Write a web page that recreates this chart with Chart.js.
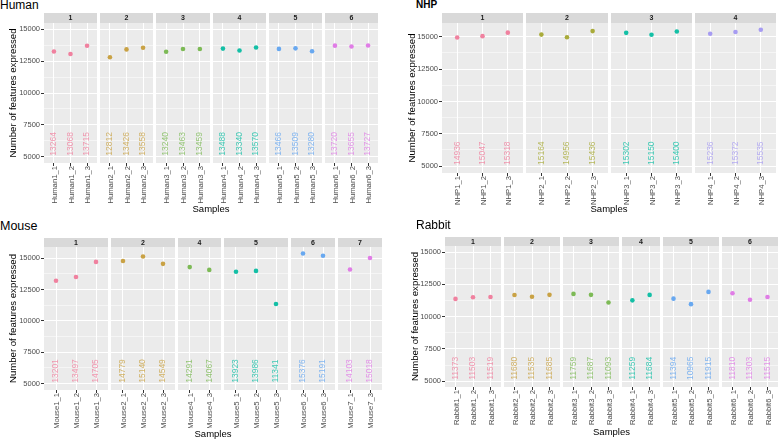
<!DOCTYPE html>
<html>
<head>
<meta charset="utf-8">
<script src="https://cdn.jsdelivr.net/npm/chart.js@4.4.1/dist/chart.umd.min.js"></script>
<style>
  body { margin: 0; width: 778px; height: 439px; overflow: hidden; background: #fff; position: relative;
         font-family: "Liberation Sans", Arial, sans-serif; }
  canvas { position: absolute; }
  .title { position: absolute; color: #000; white-space: nowrap; line-height: 1; }
  .xtitle { position: absolute; font-size: 9.5px; line-height: 1; color: #000; transform: translate(-50%, -50%); white-space: nowrap; }
</style>
</head>
<body>
<script>
// ---- data ----
const humanFacets = ['1', '2', '3', '4', '5', '6'];
const humanSamples = ['Human1_1', 'Human1_2', 'Human1_3', 'Human2_1', 'Human2_2', 'Human2_3',
  'Human3_1', 'Human3_2', 'Human3_3', 'Human4_1', 'Human4_2', 'Human4_3',
  'Human5_1', 'Human5_2', 'Human5_3', 'Human6_1', 'Human6_2', 'Human6_3'];
const humanFacetOf = ['1', '1', '1', '2', '2', '2', '3', '3', '3', '4', '4', '4', '5', '5', '5', '6', '6', '6'];
const humanCounts = [13264, 13068, 13715, 12812, 13426, 13558, 13240, 13463, 13459,
  13488, 13340, 13570, 13466, 13509, 13280, 13720, 13655, 13727];

const nhpFacets = ['1', '2', '3', '4'];
const nhpSamples = ['NHP1_1', 'NHP1_2', 'NHP1_3', 'NHP2_1', 'NHP2_2', 'NHP2_3',
  'NHP3_1', 'NHP3_2', 'NHP3_3', 'NHP4_1', 'NHP4_2', 'NHP4_3'];
const nhpFacetOf = ['1', '1', '1', '2', '2', '2', '3', '3', '3', '4', '4', '4'];
const nhpCounts = [14936, 15047, 15318, 15164, 14956, 15436, 15302, 15150, 15400, 15236, 15372, 15535];

const mouseFacets = ['1', '2', '4', '5', '6', '7'];
const mouseSamples = ['Mouse1_1', 'Mouse1_2', 'Mouse1_3', 'Mouse2_1', 'Mouse2_2', 'Mouse2_3',
  'Mouse4_1', 'Mouse4_3', 'Mouse5_1', 'Mouse5_2', 'Mouse5_3', 'Mouse6_2', 'Mouse6_3', 'Mouse7_1', 'Mouse7_3'];
const mouseFacetOf = ['1', '1', '1', '2', '2', '2', '4', '4', '5', '5', '5', '6', '6', '7', '7'];
const mouseCounts = [13201, 13497, 14705, 14779, 15140, 14549, 14291, 14067, 13923, 13986, 11341,
  15376, 15191, 14103, 15018];

const rabbitFacets = ['1', '2', '3', '4', '5', '6'];
const rabbitSamples = ['Rabbit1_1', 'Rabbit1_2', 'Rabbit1_3', 'Rabbit2_1', 'Rabbit2_2', 'Rabbit2_3',
  'Rabbit3_1', 'Rabbit3_2', 'Rabbit3_3', 'Rabbit4_1', 'Rabbit4_3',
  'Rabbit5_1', 'Rabbit5_2', 'Rabbit5_3', 'Rabbit6_1', 'Rabbit6_2', 'Rabbit6_3'];
const rabbitFacetOf = ['1', '1', '1', '2', '2', '2', '3', '3', '3', '4', '4', '5', '5', '5', '6', '6', '6'];
const rabbitCounts = [11373, 11503, 11519, 11680, 11535, 11685, 11759, 11687, 11093,
  11259, 11684, 11394, 10965, 11915, 11810, 11303, 11515];

const yTicks = [5000, 7500, 10000, 12500, 15000];
const yMinorTicks = [6250, 8750, 11250, 13750];
const labelY = 6000;   // height where the counts are written

// ---- styling ----
const palette6 = ['#F0819F', '#C9A245', '#7DBA56', '#14BFA6', '#68A8F0', '#E07DE6'];
const palette4 = ['#F0819F', '#A9AB3A', '#14C0A6', '#A79CF2'];
const FONT = '"Liberation Sans", Arial, sans-serif';
const EXTRA = 12;   // spare room under the axis so rotated labels are never clipped

const facetFrame = {
  id: 'facetFrame',
  beforeDraw(chart, args, opts) {
    const { ctx, chartArea: a } = chart;
    ctx.save();
    ctx.fillStyle = '#ebebeb';
    ctx.fillRect(a.left, a.top, a.right - a.left, a.bottom - a.top);
    ctx.fillStyle = '#d9d9d9';
    ctx.fillRect(a.left, a.top - opts.stripH, a.right - a.left, opts.stripH);
    ctx.fillStyle = '#1a1a1a';
    ctx.font = 'bold 7px ' + FONT;
    ctx.textAlign = 'center';
    ctx.textBaseline = 'middle';
    ctx.fillText(opts.label, (a.left + a.right) / 2, a.top - opts.stripH / 2 + 0.5);
    ctx.restore();
  },
  afterDatasetsDraw(chart, args, opts) {
    const { ctx, scales: { x, y } } = chart;
    ctx.save();
    ctx.fillStyle = opts.color;
    ctx.globalAlpha = 0.8;
    ctx.font = '8.5px ' + FONT;
    ctx.textAlign = 'center';
    ctx.textBaseline = 'middle';
    opts.values.forEach((v, i) => {
      ctx.save();
      ctx.translate(x.getPixelForValue(i), y.getPixelForValue(labelY));
      ctx.rotate(-Math.PI / 2);
      ctx.fillText(String(v), 0, 0);
      ctx.restore();
    });
    ctx.restore();
  }
};

function addText(cls, text, left, top, size, weight) {
  const d = document.createElement('div');
  d.className = cls;
  d.textContent = text;
  d.style.left = left + 'px';
  d.style.top = top + 'px';
  if (size) d.style.fontSize = size + 'px';
  if (weight) d.style.fontWeight = weight;
  document.body.appendChild(d);
}

function drawSpecies(cfg) {
  const spans = cfg.facets.map(f => cfg.facetOf.filter(g => g === f).length - 1 + 1.2);
  const totalUnits = spans.reduce((a, b) => a + b, 0);
  const gap = 3;
  const avail = cfg.plotRight - cfg.plotLeft - gap * (cfg.facets.length - 1);
  const stripH = cfg.plotTop - cfg.stripTop;
  let acc = 0;

  cfg.facets.forEach((f, fi) => {
    const x0 = Math.round(cfg.plotLeft + avail * acc / totalUnits + gap * fi);
    acc += spans[fi];
    const x1 = Math.round(cfg.plotLeft + avail * acc / totalUnits + gap * fi);
    const idx = cfg.facetOf.map((g, i) => (g === f ? i : -1)).filter(i => i >= 0);
    const names = idx.map(i => cfg.samples[i]);
    const vals = idx.map(i => cfg.counts[i]);
    const color = cfg.palette[fi];
    const first = fi === 0;
    const left = first ? cfg.canvasLeft : x0;
    const axisW = first ? x0 - cfg.canvasLeft : 0;

    const canvas = document.createElement('canvas');
    canvas.width = x1 - left;
    canvas.height = cfg.axisBottom - cfg.stripTop + EXTRA;
    canvas.style.left = left + 'px';
    canvas.style.top = cfg.stripTop + 'px';
    document.body.appendChild(canvas);

    new Chart(canvas, {
      type: 'scatter',
      data: {
        datasets: [{
          data: vals.map((v, i) => ({ x: i, y: v })),
          backgroundColor: color,
          borderColor: color,
          borderWidth: 0,
          pointRadius: 2.3,
          pointHoverRadius: 2.3
        }]
      },
      plugins: [facetFrame],
      options: {
        responsive: false,
        animation: false,
        events: [],
        devicePixelRatio: 1,
        layout: { padding: { top: stripH, left: 0, right: 0, bottom: EXTRA }, autoPadding: false },
        plugins: {
          legend: { display: false },
          tooltip: { enabled: false },
          facetFrame: { label: f, stripH: stripH, values: vals, color: color }
        },
        scales: {
          x: {
            type: 'linear',
            min: -0.6,
            max: names.length - 0.4,
            afterBuildTicks: s => { s.ticks = names.map((n, i) => ({ value: i })); },
            afterFit: s => { s.height = cfg.axisBottom - cfg.plotBottom; },
            border: { display: false },
            grid: { color: '#ffffff', lineWidth: 1, tickColor: '#333333', tickLength: 3 },
            ticks: {
              autoSkip: false,
              minRotation: 90,
              maxRotation: 90,
              padding: 0,
              labelOffset: 1,
              color: '#4d4d4d',
              font: { size: 7.7, family: FONT },
              callback: v => names[v]
            }
          },
          y: {
            min: cfg.yMin,
            max: cfg.yMax,
            afterBuildTicks: s => {
              s.ticks = yTicks.concat(yMinorTicks).sort((a, b) => a - b).map(v => ({ value: v }));
            },
            afterFit: s => { s.width = axisW; },
            border: { display: false },
            grid: {
              color: '#ffffff',
              lineWidth: c => (yTicks.includes(c.tick.value) ? 1 : 0.5),
              drawTicks: first,
              tickLength: 3,
              tickColor: c => (yTicks.includes(c.tick.value) ? '#333333' : 'rgba(0,0,0,0)')
            },
            ticks: {
              display: first,
              padding: 1,
              color: '#4d4d4d',
              font: { size: 7.5, family: FONT },
              callback: v => (yTicks.includes(v) ? String(v) : '')
            },
            title: {
              display: first,
              text: 'Number of features expressed',
              color: '#000000',
              font: { size: 9.6, family: FONT },
              padding: { top: 8, bottom: 0 }
            }
          }
        }
      }
    });
  });

  addText('title', cfg.name, cfg.titleX, cfg.titleY, cfg.titleSize, cfg.titleWeight);
  addText('xtitle', 'Samples', (cfg.plotLeft + cfg.plotRight) / 2, cfg.xTitleY);
}

drawSpecies({
  name: 'Human', facets: humanFacets, samples: humanSamples, facetOf: humanFacetOf, counts: humanCounts,
  palette: palette6, canvasLeft: 0, plotLeft: 44, plotRight: 378, stripTop: 13, plotTop: 23,
  plotBottom: 163, axisBottom: 206, yMin: 4500, yMax: 15500,
  titleX: 0, titleY: -1.2, titleSize: 12, xTitleY: 209
});
drawSpecies({
  name: 'NHP', facets: nhpFacets, samples: nhpSamples, facetOf: nhpFacetOf, counts: nhpCounts,
  palette: palette4, canvasLeft: 399, plotLeft: 442, plotRight: 776, stripTop: 13, plotTop: 23,
  plotBottom: 173, axisBottom: 206, yMin: 4473, yMax: 16062,
  titleX: 416, titleY: -0.2, titleSize: 10, titleWeight: 'bold', xTitleY: 209
});
drawSpecies({
  name: 'Mouse', facets: mouseFacets, samples: mouseSamples, facetOf: mouseFacetOf, counts: mouseCounts,
  palette: palette6, canvasLeft: 0, plotLeft: 44, plotRight: 382, stripTop: 238, plotTop: 247,
  plotBottom: 390, axisBottom: 428, yMin: 4481, yMax: 15895,
  titleX: 0, titleY: 220.4, titleSize: 12.5, xTitleY: 434
});
drawSpecies({
  name: 'Rabbit', facets: rabbitFacets, samples: rabbitSamples, facetOf: rabbitFacetOf, counts: rabbitCounts,
  palette: palette6, canvasLeft: 402, plotLeft: 445, plotRight: 778, stripTop: 237, plotTop: 246,
  plotBottom: 387, axisBottom: 426, yMin: 4550, yMax: 15470,
  titleX: 416, titleY: 218.8, titleSize: 12, xTitleY: 432
});
</script>
</body>
</html>
